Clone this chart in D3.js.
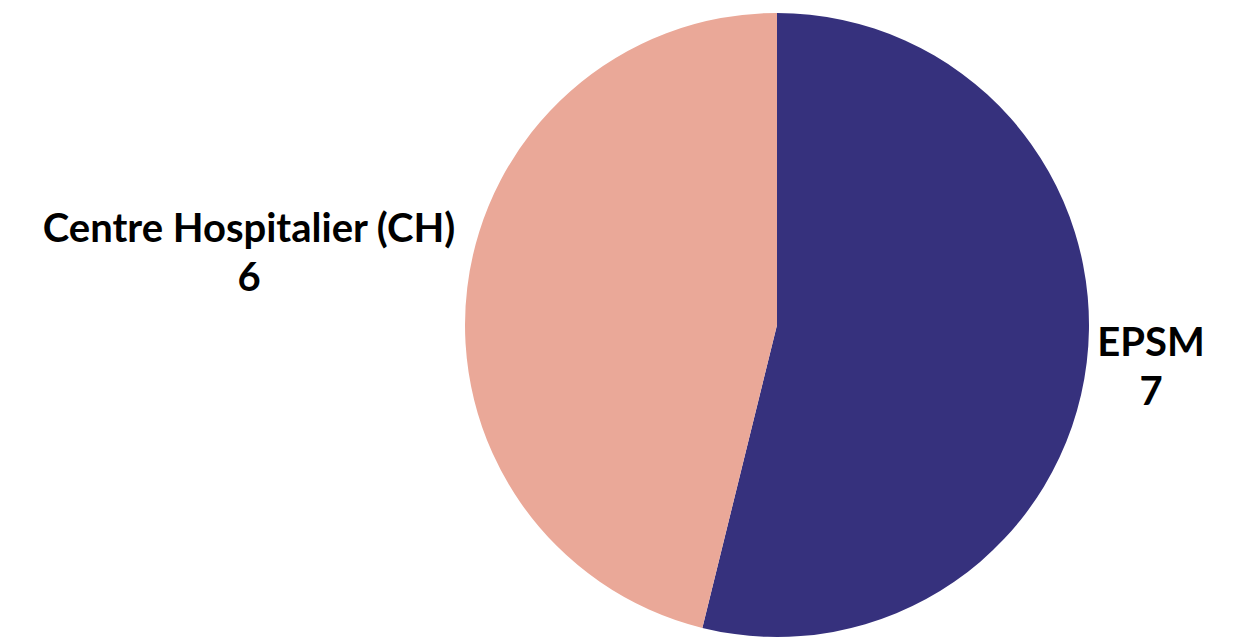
<html lang="fr">
<head>
    <meta charset="UTF-8">
    <title>Pie</title>
    <style>
        body { margin: 0; background: #fff; }
        text { font-family: Lato, sans-serif; font-weight: bold; fill: #000; }
    </style>
</head>
<body>
    <script src="https://d3js.org/d3.v7.min.js"></script>
    <div id="my_dataviz"></div>
    <script>
        // Data
        var categories = ["EPSM", "Centre Hospitalier (CH)"]
        var values = [7, 6]
        var colors = ["#36317d", "#eaa898"]

        var width = 1237
        var height = 640
        var cx = 777, cy = 325, radius = 312

        var svg = d3.select("#my_dataviz")
            .append("svg")
            .attr("width", width)
            .attr("height", height)

        var data = categories.map(function (c, i) { return { name: c, value: values[i], color: colors[i] } })

        var pie = d3.pie().sort(null).value(function (d) { return d.value })
        var arc = d3.arc().innerRadius(0).outerRadius(radius)

        var g = svg.append("g").attr("transform", "translate(" + cx + "," + cy + ")")

        g.selectAll("path")
            .data(pie(data))
            .enter()
            .append("path")
            .attr("d", arc)
            .attr("fill", function (d) { return d.data.color })

        // labels placed outside the pie
        var labelPos = [[1151, 356], [249, 242]]
        var lineGap = 49

        data.forEach(function (d, i) {
            var t = svg.append("text")
                .attr("x", labelPos[i][0])
                .attr("y", labelPos[i][1])
                .attr("text-anchor", "middle")
                .style("font-size", "40px")
            t.append("tspan").attr("x", labelPos[i][0]).text(d.name)
            t.append("tspan").attr("x", labelPos[i][0]).attr("dy", lineGap).text(d.value)
        })
    </script>
</body>
</html>
